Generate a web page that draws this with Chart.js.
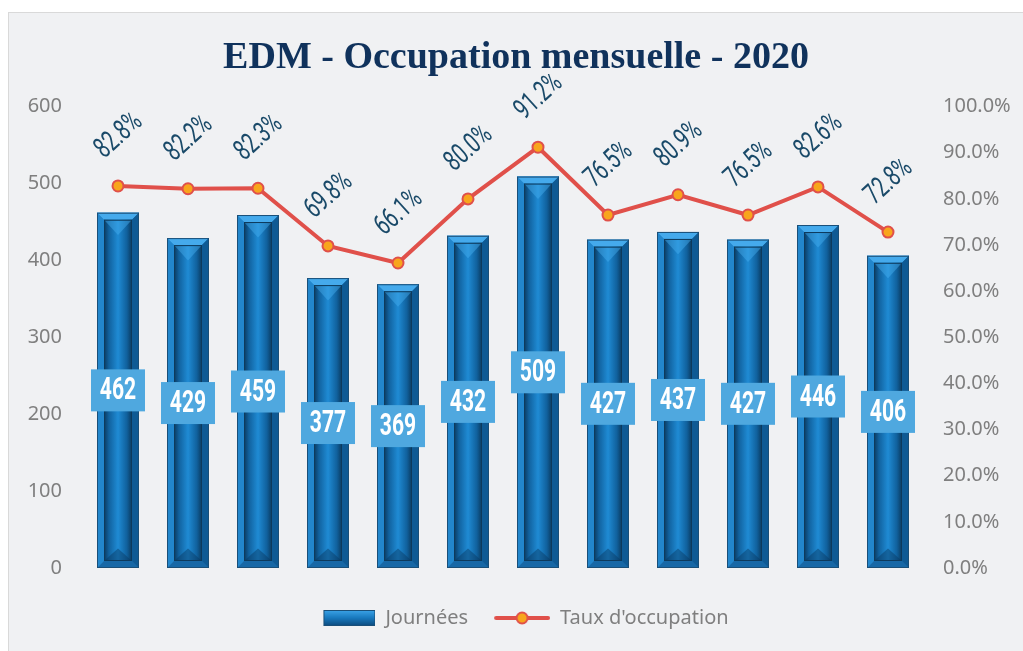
<!DOCTYPE html>
<html lang="fr">
<head>
<meta charset="utf-8">
<title>EDM - Occupation mensuelle - 2020</title>
<script src="https://cdn.jsdelivr.net/npm/chart.js@4.4.0/dist/chart.umd.min.js"></script>
<style>
  body { margin: 0; background: #ffffff; overflow: hidden; }
  #box {
    position: absolute; left: 8px; top: 12px;
    width: 1040px; height: 660px;
    background: #f0f1f3; border: 1px solid #d9d9d9;
  }
  #edmChart { position: absolute; left: 0; top: 0; }
</style>
</head>
<body>
<div id="box">
  <canvas id="edmChart" width="1014" height="638"></canvas>
</div>
<script>
// Data
var mois = ['Janvier', 'Février', 'Mars', 'Avril', 'Mai', 'Juin',
            'Juillet', 'Août', 'Septembre', 'Octobre', 'Novembre', 'Décembre'];
var journees = [462, 429, 459, 377, 369, 432, 509, 427, 437, 427, 446, 406];
var tauxOccupation = [82.8, 82.2, 82.3, 69.8, 66.1, 80.0, 91.2, 76.5, 80.9, 76.5, 82.6, 72.8];
var ticksJournees = [0, 100, 200, 300, 400, 500, 600];
var ticksTaux = [0, 10, 20, 30, 40, 50, 60, 70, 80, 90, 100];

var RED = '#e0504a';
var ORANGE = '#f8a51c';
var GRAY = '#7f7f7f';

Chart.defaults.font.family = "'Noto Sans', 'Open Sans', sans-serif";

// Draw one beveled bar (the "3D" look of the reference)
function drawBevelBar(ctx, l, r, t, b) {
    var w = r - l;
    var g = ctx.createLinearGradient(l, 0, r, 0);
    g.addColorStop(0, '#2f95da');
    g.addColorStop(0.5, '#1b7cc2');
    g.addColorStop(1, '#115d98');
    ctx.fillStyle = g;
    ctx.fillRect(l, t, w, b - t);

    var i = Math.min(7, w / 4, (b - t) / 4);
    var il = l + i, ir = r - i, it = t + i, ib = b - i;

    function poly(pts, color) {
        ctx.beginPath();
        ctx.moveTo(pts[0], pts[1]);
        for (var k = 2; k < pts.length; k += 2) ctx.lineTo(pts[k], pts[k + 1]);
        ctx.closePath();
        ctx.fillStyle = color;
        ctx.fill();
    }
    poly([l, t, r, t, ir, it, il, it], '#45aaec');
    poly([l, t, il, it, il, ib, l, b], '#2286cc');
    poly([r, t, r, b, ir, ib, ir, it], '#0f5a94');
    poly([l, b, il, ib, ir, ib, r, b], '#1868a6');

    var g2 = ctx.createLinearGradient(il, 0, ir, 0);
    g2.addColorStop(0, '#0a3a5f');
    g2.addColorStop(0.18, '#11629f');
    g2.addColorStop(0.5, '#1f8bd4');
    g2.addColorStop(0.82, '#10609c');
    g2.addColorStop(1, '#0a3a5f');
    ctx.fillStyle = g2;
    ctx.fillRect(il, it, ir - il, ib - it);

    var iw = ir - il;
    poly([il, it, ir, it, (il + ir) / 2, it + iw * 0.55], 'rgba(70,175,240,0.45)');
    poly([il, ib, ir, ib, (il + ir) / 2, ib - iw * 0.45], 'rgba(8,55,95,0.45)');

    ctx.strokeStyle = '#0d3a5c';
    ctx.strokeRect(il + 0.5, it + 0.5, iw - 1, ib - it - 1);

    ctx.strokeStyle = '#1a4f78';
    ctx.lineWidth = 1;
    ctx.strokeRect(l + 0.5, t + 0.5, w - 1, b - t - 1);
}

// Legend icons
function iconBar() {
    var c = document.createElement('canvas');
    c.width = 72; c.height = 16;
    var ctx = c.getContext('2d');
    var l = 20, r = 72, t = 0.5, b = 15.5;
    var g = ctx.createLinearGradient(0, t, 0, b);
    g.addColorStop(0, '#3aa2e6');
    g.addColorStop(0.5, '#1878bd');
    g.addColorStop(1, '#0d4d80');
    ctx.fillStyle = g;
    ctx.fillRect(l, t, r - l, b - t);
    ctx.strokeStyle = '#1a4f78';
    ctx.strokeRect(l + 0.5, t, r - l - 1, b - t);
    return c;
}
function iconLine() {
    var c = document.createElement('canvas');
    c.width = 72; c.height = 16;
    var ctx = c.getContext('2d');
    ctx.strokeStyle = RED;
    ctx.lineWidth = 4;
    ctx.lineCap = 'round';
    ctx.beginPath();
    ctx.moveTo(18, 8); ctx.lineTo(70, 8);
    ctx.stroke();
    ctx.beginPath();
    ctx.arc(44, 8, 5.5, 0, Math.PI * 2);
    ctx.fillStyle = ORANGE;
    ctx.fill();
    ctx.lineWidth = 2;
    ctx.stroke();
    return c;
}

var bevelPlugin = {
    id: 'bevel',
    afterDatasetDraw: function (chart, args) {
        if (args.index !== 0) return;
        var ctx = chart.ctx;
        ctx.save();
        args.meta.data.forEach(function (bar) {
            var p = bar.getProps(['x', 'y', 'base', 'width'], true);
            drawBevelBar(ctx, p.x - p.width / 2, p.x + p.width / 2, p.y, p.base);
        });
        ctx.restore();
    }
};

var labelPlugin = {
    id: 'valueLabels',
    afterDatasetsDraw: function (chart) {
        var ctx = chart.ctx;
        ctx.save();
        ctx.textAlign = 'center';
        ctx.textBaseline = 'middle';

        // Bar values in light blue boxes
        chart.getDatasetMeta(0).data.forEach(function (bar, i) {
            var p = bar.getProps(['x', 'y', 'base'], true);
            var cy = (p.y + p.base) / 2;
            ctx.fillStyle = '#4fa8df';
            ctx.fillRect(p.x - 27, cy - 21, 54, 42);
            ctx.save();
            ctx.translate(p.x, cy + 1);
            ctx.scale(0.66, 1);
            ctx.font = "bold 32px Roboto, 'Liberation Sans', sans-serif";
            ctx.fillStyle = '#ffffff';
            ctx.fillText(String(journees[i]), 0, 0);
            ctx.restore();
        });

        // Percent labels, rotated
        chart.getDatasetMeta(1).data.forEach(function (pt, i) {
            ctx.save();
            ctx.translate(pt.x + 1, pt.y - 50);
            ctx.rotate(-42 * Math.PI / 180);
            ctx.scale(0.68, 1);
            ctx.font = "29px Roboto, 'Liberation Sans', sans-serif";
            ctx.fillStyle = '#1a4a69';
            ctx.fillText(tauxOccupation[i].toFixed(1) + '%', 0, 0);
            ctx.restore();
        });
        ctx.restore();
    }
};

var ctx = document.getElementById('edmChart');
var edmChart = new Chart(ctx, {
    type: 'bar',
    data: {
        labels: mois,
        datasets: [
            {
                type: 'bar',
                label: 'Journées',
                data: journees,
                yAxisID: 'y',
                backgroundColor: '#1877bb',
                borderWidth: 0,
                barPercentage: 0.6,
                categoryPercentage: 1,
                order: 2
            },
            {
                type: 'line',
                label: "Taux d'occupation",
                data: tauxOccupation,
                yAxisID: 'y1',
                borderColor: RED,
                borderWidth: 4,
                pointRadius: 5.5,
                pointBackgroundColor: ORANGE,
                pointBorderColor: RED,
                pointBorderWidth: 2,
                tension: 0,
                order: 1
            }
        ]
    },
    options: {
        responsive: false,
        animation: false,
        layout: { padding: { left: 0, right: 0, top: 0, bottom: 13 } },
        plugins: {
            title: {
                display: true,
                text: 'EDM - Occupation mensuelle - 2020',
                color: '#10325c',
                font: { family: "'Liberation Serif', 'DejaVu Serif', serif", size: 38, weight: 'bold' },
                padding: { top: 22, bottom: 26 }
            },
            legend: {
                display: true,
                position: 'bottom',
                labels: {
                    usePointStyle: true,
                    pointStyleWidth: 72,
                    padding: 10,
                    color: GRAY,
                    font: { size: 20 },
                    generateLabels: function () {
                        return [
                            { text: 'Journées', pointStyle: iconBar(), fontColor: GRAY, lineWidth: 0, hidden: false, datasetIndex: 0 },
                            { text: "Taux d'occupation", pointStyle: iconLine(), fontColor: GRAY, lineWidth: 0, hidden: false, datasetIndex: 1 }
                        ];
                    }
                }
            },
            tooltip: { enabled: false }
        },
        scales: {
            x: {
                grid: { display: false, drawTicks: false },
                border: { display: false },
                ticks: { display: false },
                afterFit: function (scale) { scale.height = 30; }
            },
            y: {
                position: 'left',
                min: 0,
                max: 600,
                grid: { display: false, drawTicks: false },
                border: { display: false },
                afterBuildTicks: function (scale) {
                    scale.ticks = ticksJournees.map(function (v) { return { value: v }; });
                },
                ticks: { color: GRAY, font: { size: 20 }, padding: 21 },
                afterFit: function (scale) { scale.width = 74; }
            },
            y1: {
                position: 'right',
                min: 0,
                max: 100,
                grid: { display: false, drawTicks: false },
                border: { display: false },
                afterBuildTicks: function (scale) {
                    scale.ticks = ticksTaux.map(function (v) { return { value: v }; });
                },
                ticks: {
                    color: GRAY,
                    font: { size: 20 },
                    padding: 20,
                    callback: function (v) { return Number(v).toFixed(1) + '%'; }
                },
                afterFit: function (scale) { scale.width = 100; }
            }
        }
    },
    plugins: [bevelPlugin, labelPlugin]
});
</script>
</body>
</html>
